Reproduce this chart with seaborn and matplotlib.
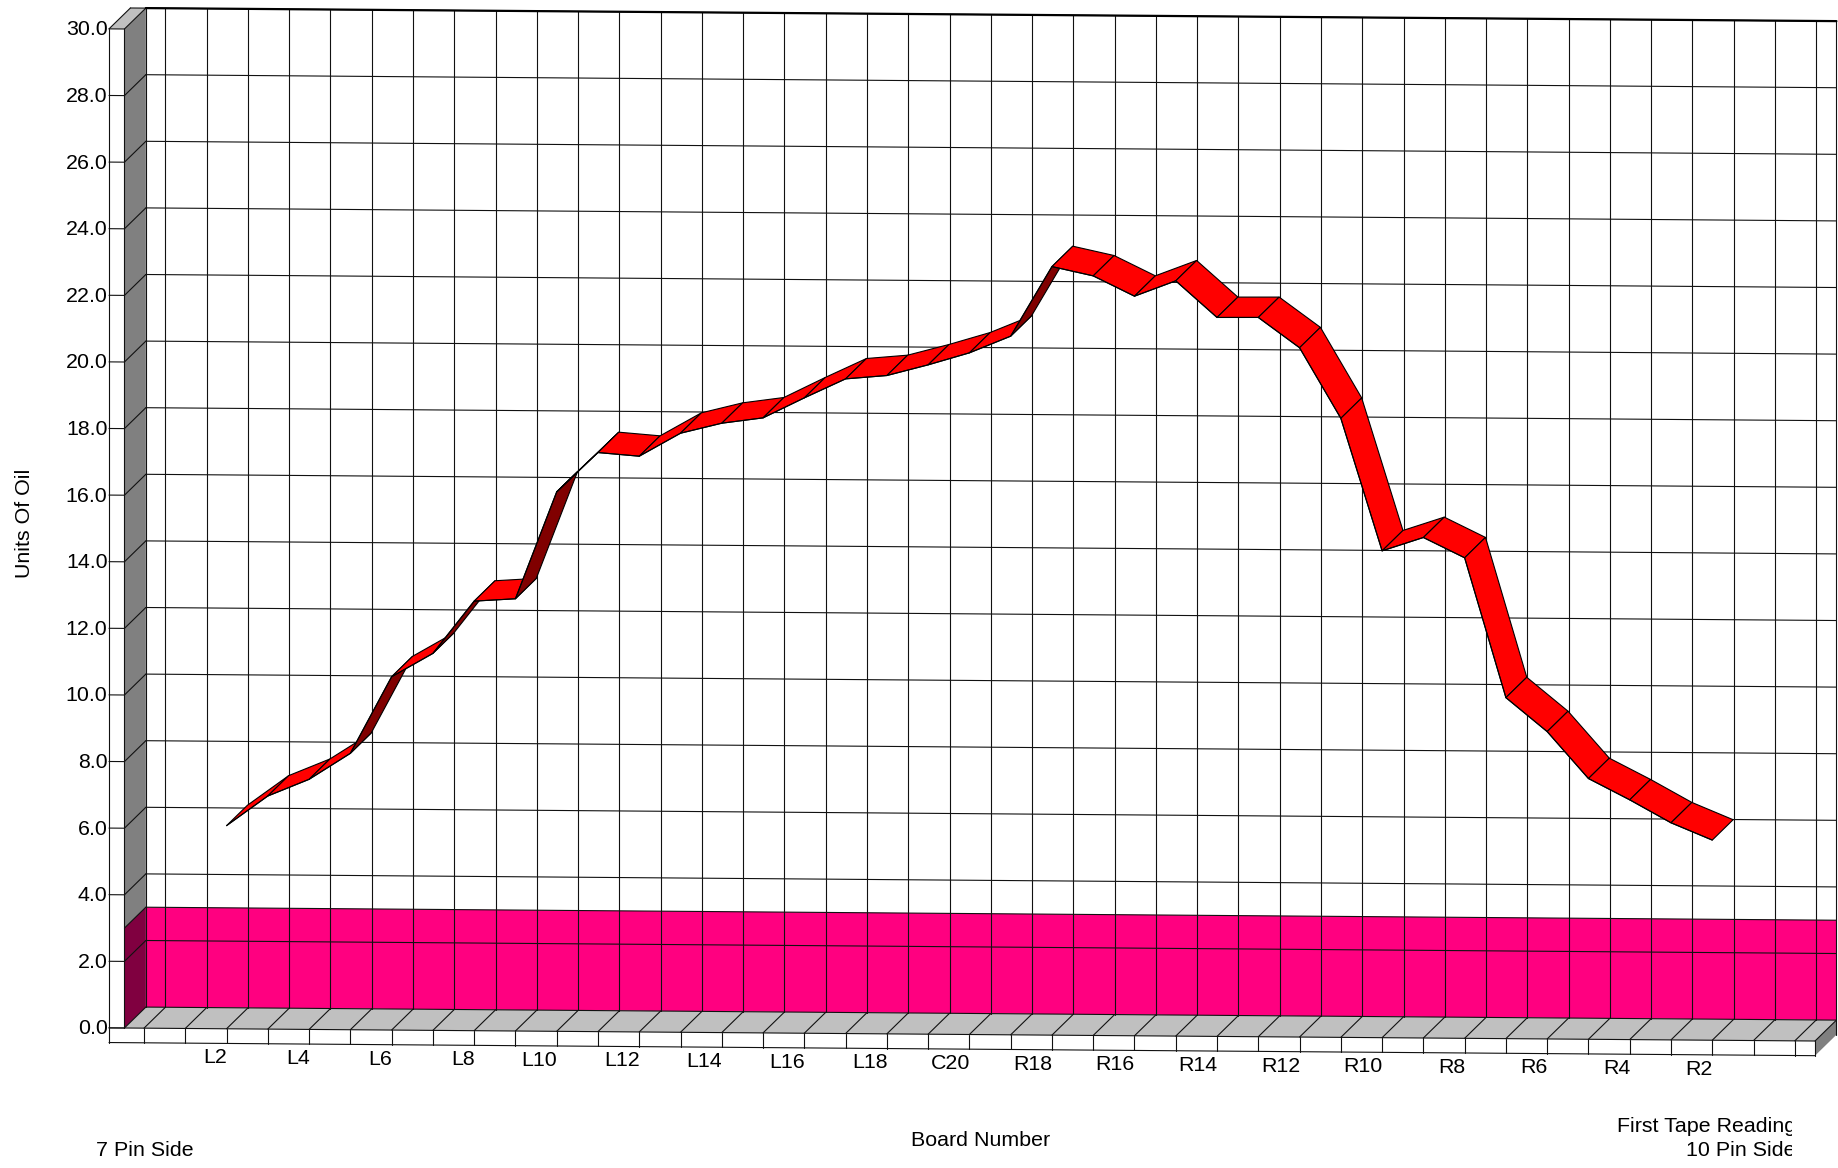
import numpy as np
import pandas as pd
import seaborn as sns
import matplotlib.pyplot as plt
from matplotlib.transforms import Bbox
plt.switch_backend('agg')

boards = ['L2', 'L3', 'L4', 'L5', 'L6', 'L7', 'L8', 'L9', 'L10', 'L11', 'L12', 'L13', 'L14',
          'L15', 'L16', 'L17', 'L18', 'L19', 'C20', 'R19', 'R18', 'R17', 'R16', 'R15', 'R14',
          'R13', 'R12', 'R11', 'R10', 'R9', 'R8', 'R7', 'R6', 'R5', 'R4', 'R3', 'R2']
oil = [6.10, 7.00, 7.51, 8.30, 10.61, 11.32, 12.90, 12.98, 16.20, 17.39, 17.29, 17.99, 18.30,
       18.47, 19.08, 19.66, 19.77, 20.10, 20.47, 20.98, 23.08, 22.81, 22.21, 22.68, 21.59,
       21.60, 20.70, 18.59, 14.62, 15.03, 14.43, 10.24, 9.23, 7.83, 7.20, 6.52, 6.01]
tick_boards = ['L2', 'L4', 'L6', 'L8', 'L10', 'L12', 'L14', 'L16', 'L18', 'C20',
               'R18', 'R16', 'R14', 'R12', 'R10', 'R8', 'R6', 'R4', 'R2']
y_ticks = [0, 2, 4, 6, 8, 10, 12, 14, 16, 18, 20, 22, 24, 26, 28, 30]
band_top = 3.0

# the projection of the old 3d chart: k is the slot on the floor, d the depth
X0, DX, Y0, SKEW, UNIT = 144.0, 41.27, 1028.15, 0.3178, 33.3
DEPTH_X, DEPTH_Y = 21.4, 20.9
K_STRIP, K_WALL, K_END = -0.848, -0.474, 40.49
N_SLOTS = 41
RIBBON_D = 0.975


def project(k, v, d=0.0):
    k = np.asarray(k, dtype=float)
    v = np.asarray(v, dtype=float)
    return X0 + DX * k + DEPTH_X * d, Y0 + SKEW * k - UNIT * v - DEPTH_Y * d


def face(ax, corners, color, **kw):
    xs, ys = zip(*[project(*c) for c in corners])
    ax.fill(xs, ys, facecolor=color, edgecolor='none', **kw)


segs = []


def seg(a, b):
    segs.append((project(*a), project(*b)))


sns.set_theme(style='white')
plt.rcParams['font.family'] = ['Liberation Sans', 'DejaVu Sans']

fig = plt.figure(figsize=(18.38, 11.68), dpi=100)
ax = fig.add_axes([0, 0, 1, 1])

# walls and floor
face(ax, [(K_WALL, 0, 0), (K_WALL, 0, 1), (K_WALL, 30, 1), (K_WALL, 30, 0)], '#808080')
face(ax, [(K_WALL, 0, 0), (K_WALL, 0, 1), (K_WALL, band_top, 1), (K_WALL, band_top, 0)], '#800040')
face(ax, [(K_WALL, 0, 1), (K_END, 0, 1), (K_END, band_top, 1), (K_WALL, band_top, 1)], '#FF0080')
face(ax, [(K_WALL, 0, 0), (K_WALL, 0, 1), (K_END, 0, 1), (K_END, 0, 0)], '#C0C0C0')
face(ax, [(K_STRIP, 30, 0), (K_STRIP, 30, 1), (K_WALL, 30, 1), (K_WALL, 30, 0)], '#C0C0C0')
face(ax, [(K_END, 0, 0), (K_END, 0, 1), (K_END, -0.44, 1), (K_END, -0.44, 0)], '#808080')

# grid, all in one long table
seg((K_STRIP, 30), (K_STRIP, -0.44))
seg((K_WALL, 30), (K_WALL, 0))
seg((K_WALL, 30, 1), (K_WALL, 0, 1))
seg((K_END, 30, 1), (K_END, -0.44, 1))
seg((K_END, 0), (K_END, -0.44))
seg((K_STRIP, -0.44), (K_END, -0.44))
seg((K_STRIP, 0), (K_WALL, 0))
seg((K_WALL, 0), (K_END, 0))
seg((K_END, 0), (K_END, 0, 1))
seg((K_STRIP, 30), (K_STRIP, 30, 1))
seg((K_STRIP, 30, 1), (K_WALL, 30, 1))
for t in y_ticks:
    seg((K_STRIP, t), (K_WALL, t))
    seg((K_WALL, t), (K_WALL, t, 1))
    seg((K_WALL, t, 1), (K_END, t, 1))
seg((K_WALL, band_top), (K_WALL, band_top, 1))
seg((K_WALL, band_top, 1), (K_END, band_top, 1))
for k in range(N_SLOTS):
    seg((k, 30, 1), (k, 0, 1))
    seg((k, 0), (k, 0, 1))
    seg((k, 0), (k, -0.44))

rows = []
for i, (a, b) in enumerate(segs):
    rows.append({'line': i, 'step': 0, 'px': float(a[0]), 'py': float(a[1])})
    rows.append({'line': i, 'step': 1, 'px': float(b[0]), 'py': float(b[1])})
df_grid = pd.DataFrame(rows)
sns.lineplot(data=df_grid, x='px', y='py', units='line', estimator=None, sort=False,
             color='#111111', linewidth=0.8, legend=False, ax=ax, zorder=3)

# heavy top edge of the back wall
top_x, top_y = project([K_WALL, K_END], [30, 30], 1)
ax.plot(top_x, top_y, color='black', linewidth=1.6, zorder=3)

# ribbon, painted left to right, dark where we look at its underside
slots = np.arange(len(boards)) + 2
oil_arr = np.array(oil)
fx, fy = project(slots, oil_arr)
bx, by = project(slots, oil_arr, RIBBON_D)
for i in range(len(boards) - 1):
    rise = fy[i] - fy[i + 1]
    col = '#800000' if rise > (DEPTH_Y * DX / DEPTH_X) else '#FF0000'
    ax.fill([fx[i], fx[i + 1], bx[i + 1], bx[i]], [fy[i], fy[i + 1], by[i + 1], by[i]],
            facecolor=col, edgecolor='black', linewidth=0.8, joinstyle='round', zorder=4 + i * 0.01)
df_edge = pd.DataFrame({'board': boards, 'px': fx, 'py': fy})
sns.lineplot(data=df_edge, x='px', y='py', estimator=None, sort=False, color='black',
             linewidth=0.8, legend=False, ax=ax, zorder=5)

# tick labels
FS = 15.4
for t in y_ticks:
    px, py = project(K_STRIP, t)
    ax.text(px - 1.5, py + 1, '%.1f' % t, ha='right', va='center', fontsize=FS, color='black')
for name in tick_boards:
    k = boards.index(name) + 2
    px, py = project(k, 0)
    ax.text(px + 0.5, py + 29, name, ha='right', va='center', fontsize=FS, color='black')

ax.text(24.5, 523, 'Units Of Oil', rotation=90, ha='center', va='center', fontsize=FS, color='black')
ax.text(981, 1141, 'Board Number', ha='center', va='center', fontsize=FS, color='black')
ax.text(96, 1150, '7 Pin Side', ha='left', va='center', fontsize=FS, color='black')
for txt, ty in [('First Tape Reading', 1126.5), ('10 Pin Side', 1150)]:
    t = ax.text(1796, ty, txt, ha='right', va='center', fontsize=FS, color='black', clip_on=True)
    t.set_clip_box(Bbox.from_extents(0, 0, 1792, 1168))

ax.set_xlim(0, 1838)
ax.set_ylim(1168, 0)
ax.set_axis_off()
fig.savefig('out.png', dpi=100)
plt.close()
